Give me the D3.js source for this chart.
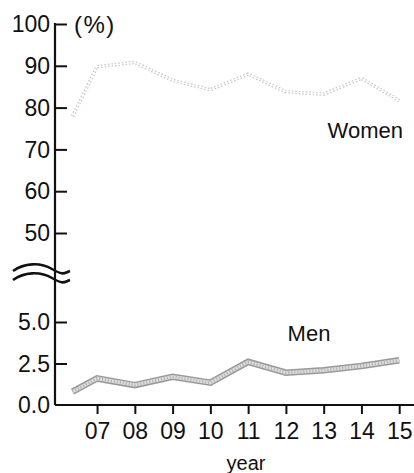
<!DOCTYPE html>
<html><head><meta charset="utf-8">
<script src="https://cdn.jsdelivr.net/npm/d3@7"></script>
<style>body{margin:0;background:#fff}svg{display:block}text{font-family:"Liberation Sans",Arial,sans-serif;fill:#111}</style>
</head><body><svg id="c" width="414" height="473"></svg>
<script>
const years = [6.35, 7, 8, 9, 10, 11, 12, 13, 14, 15];
const women = [77.9, 89.8, 90.8, 86.5, 84.3, 88.0, 83.8, 83.2, 87.0, 81.7];
const men = [0.8, 1.6, 1.2, 1.7, 1.35, 2.6, 1.95, 2.1, 2.35, 2.7];
const xTicks = [7, 8, 9, 10, 11, 12, 13, 14, 15];
const xTickLabels = ["07", "08", "09", "10", "11", "12", "13", "14", "15"];
const upperTicks = [50, 60, 70, 80, 90, 100];
const lowerTicks = [0, 2.5, 5];

const svg = d3.select("#c");
const x = d3.scaleLinear().domain([6, 15]).range([59.3, 399.2]);
const yU = d3.scaleLinear().domain([50, 100]).range([233, 24]);
const yL = d3.scaleLinear().domain([0, 5]).range([405, 322]);
const axisX = 55;
const FS = 23;

// y axis line
svg.append("line").attr("x1", axisX).attr("x2", axisX).attr("y1", yU(100) - 1).attr("y2", yL(0))
  .attr("stroke", "#111").attr("stroke-width", 2.2);
// x axis line
svg.append("line").attr("x1", axisX).attr("x2", 414).attr("y1", yL(0)).attr("y2", yL(0))
  .attr("stroke", "#111").attr("stroke-width", 2.2);

// upper ticks
const gU = svg.append("g").attr("transform", `translate(${axisX},0)`)
  .call(d3.axisRight(yU).tickValues(upperTicks).tickSize(12).tickFormat(""));
gU.select(".domain").remove();
gU.selectAll(".tick line").attr("stroke", "#111").attr("stroke-width", 2);
upperTicks.forEach(v => {
  svg.append("text").attr("x", axisX - 5).attr("y", yU(v)).attr("dy", "0.36em")
    .attr("text-anchor", "end").attr("font-size", FS).text(v);
});
// lower ticks
const gL = svg.append("g").attr("transform", `translate(${axisX},0)`)
  .call(d3.axisRight(yL).tickValues(lowerTicks.filter(v => v > 0)).tickSize(12).tickFormat(""));
gL.select(".domain").remove();
gL.selectAll(".tick line").attr("stroke", "#111").attr("stroke-width", 2);
lowerTicks.forEach(v => {
  svg.append("text").attr("x", axisX - 5).attr("y", yL(v)).attr("dy", "0.36em")
    .attr("text-anchor", "end").attr("font-size", FS).text(d3.format(".1f")(v));
});

// x ticks
const gX = svg.append("g").attr("transform", `translate(0,${yL(0)})`)
  .call(d3.axisBottom(x).tickValues(xTicks).tickSize(9).tickFormat((d, i) => xTickLabels[i]));
gX.select(".domain").remove();
gX.selectAll(".tick line").attr("stroke", "#111").attr("stroke-width", 2);
gX.selectAll(".tick text").attr("font-size", FS).attr("y", 18).attr("dy", "0.71em")
  .style("font-family", "Liberation Sans, Arial, sans-serif").attr("fill", "#111");

// axis break (two wavy strokes crossing the axis)
const wave = (y0) => `M13,${y0} C24,${y0 - 8} 40,${y0 - 9} 52,${y0 - 2} S64,${y0 + 2} 70,${y0}`;
svg.append("path").attr("d", wave(271)).attr("fill", "none").attr("stroke", "#111").attr("stroke-width", 2.6);
svg.append("path").attr("d", wave(280)).attr("fill", "none").attr("stroke", "#111").attr("stroke-width", 2.6);

// lines
const lineW = d3.line().x((d, i) => x(years[i])).y(d => yU(d));
const lineM = d3.line().x((d, i) => x(years[i])).y(d => yL(d));
svg.append("path").datum(women).attr("d", lineW).attr("fill", "none")
  .attr("stroke", "#c8c8c8").attr("stroke-width", 3.5).attr("stroke-dasharray", "1.5,2");
svg.append("path").datum(women).attr("d", lineW).attr("fill", "none")
  .attr("stroke", "#fff").attr("stroke-width", 1);
svg.append("path").datum(men).attr("d", lineM).attr("fill", "none")
  .attr("stroke", "#999").attr("stroke-width", 6.5);
svg.append("path").datum(men).attr("d", lineM).attr("fill", "none")
  .attr("stroke", "#dcdcdc").attr("stroke-width", 3.5);
svg.append("path").datum(men).attr("d", lineM).attr("fill", "none")
  .attr("stroke", "#b0b0b0").attr("stroke-width", 3).attr("stroke-dasharray", "1,2");

// labels
svg.append("text").attr("x", 74).attr("y", 24).attr("dy", "0.36em").attr("font-size", 24).attr("letter-spacing", 1.5).text("(%)");
svg.append("text").attr("x", 403).attr("y", 130).attr("dy", "0.36em").attr("text-anchor", "end").attr("font-size", 22).text("Women");
svg.append("text").attr("x", 309).attr("y", 333).attr("dy", "0.36em").attr("text-anchor", "middle").attr("font-size", 22).text("Men");
svg.append("text").attr("x", 246).attr("y", 463).attr("dy", "0.36em").attr("text-anchor", "middle").attr("font-size", 20).text("year");
</script></body></html>
